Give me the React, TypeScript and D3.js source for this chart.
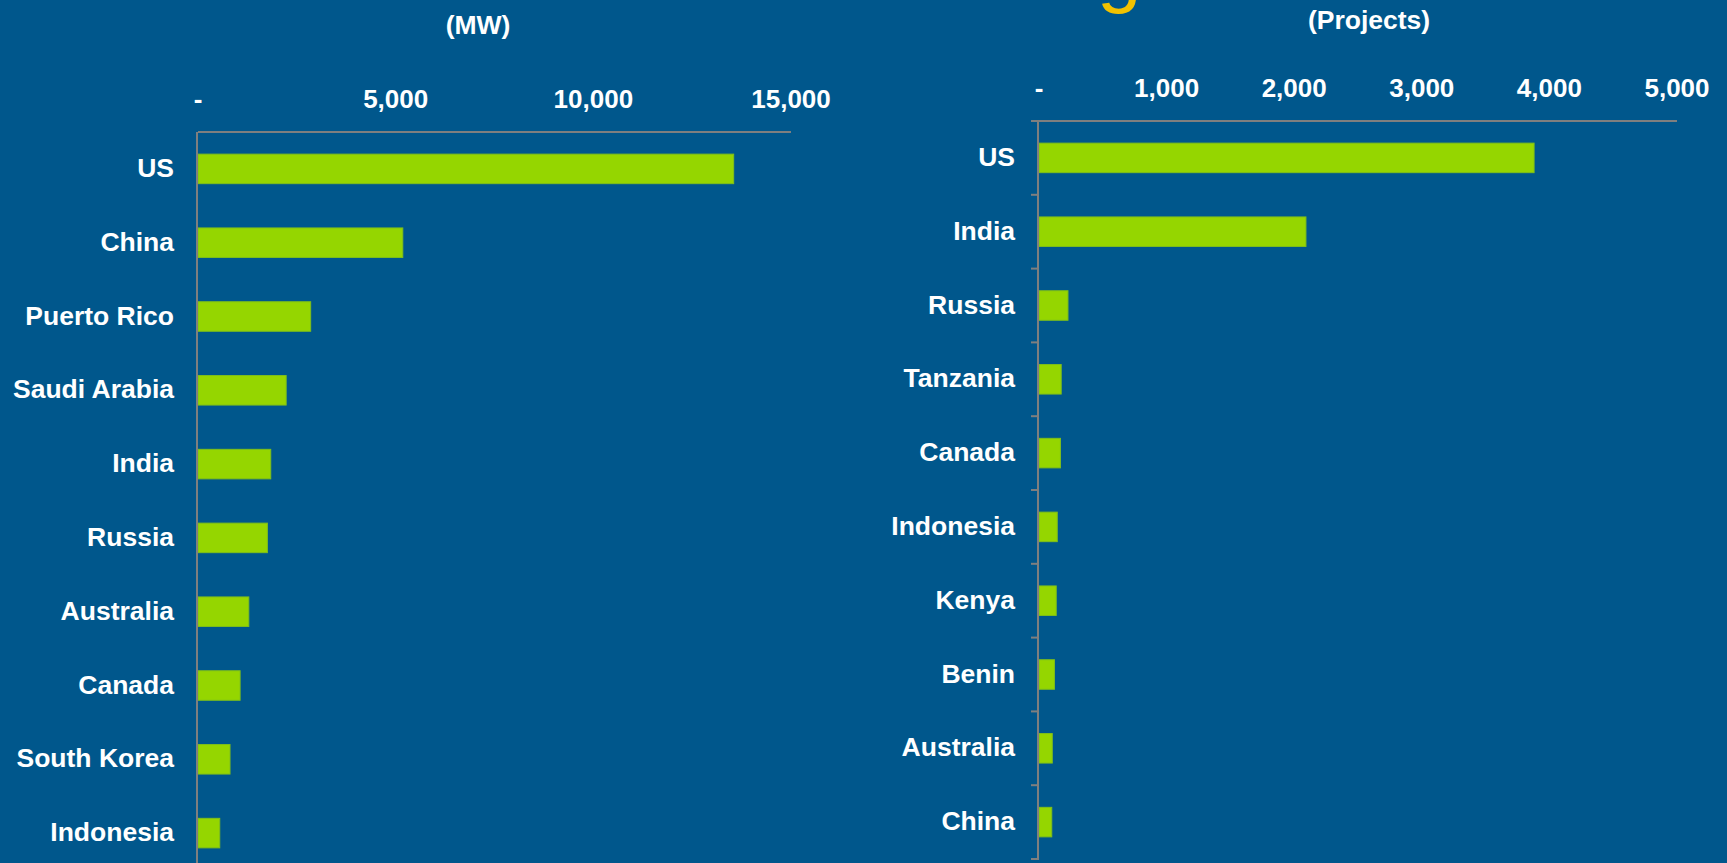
import React from "react";
import * as d3 from "d3";

// left panel: capacity (MW)
const mwCountries = ["US", "China", "Puerto Rico", "Saudi Arabia", "India", "Russia", "Australia", "Canada", "South Korea", "Indonesia"];
const mwValues = [13550, 5180, 2850, 2230, 1840, 1755, 1285, 1065, 810, 550];
const mwTicks = [0, 5000, 10000, 15000];

// right panel: number of projects
const projCountries = ["US", "India", "Russia", "Tanzania", "Canada", "Indonesia", "Kenya", "Benin", "Australia", "China"];
const projValues = [3880, 2092, 227, 174, 168, 143, 135, 121, 104, 100];
const projTicks = [0, 1000, 2000, 3000, 4000, 5000];

const W = 1727;
const H = 863;
const BG = "#00578C";
const BAR = "#95D600";
const AXIS = "#7F7F7F";
const FONT = "'Liberation Sans', Arial, sans-serif";

const fmt = (v: number) => (v === 0 ? "-" : d3.format(",")(v));

type PanelProps = {
  countries: string[];
  values: number[];
  ticks: number[];
  x0: number;
  x1: number;
  max: number;
  top: number;
  title: string;
  titleX: number;
  titleY: number;
  catTicks: boolean;
};

const Panel = (p: PanelProps) => {
  const x = d3.scaleLinear().domain([0, p.max]).range([p.x0, p.x1]);
  const y = d3
    .scaleBand<string>()
    .domain(p.countries)
    .range([p.top, p.top + 738])
    .paddingInner(0.6)
    .paddingOuter(0.3);
  const step = y.step();

  return (
    <g>
      <text x={p.titleX} y={p.titleY} textAnchor="middle" dominantBaseline="central"
        fill="#fff" fontFamily={FONT} fontWeight="bold" fontSize={26.5}>
        {p.title}
      </text>

      {p.ticks.map((t) => (
        <text key={t} x={x(t)} y={p.top - 33} textAnchor="middle" dominantBaseline="central"
          fill="#fff" fontFamily={FONT} fontWeight="bold" fontSize={26}>
          {fmt(t)}
        </text>
      ))}

      {p.countries.map((c, i) => (
        <g key={c}>
          <rect x={x(0)} y={y(c)} width={x(p.values[i]) - x(0)} height={y.bandwidth()}
            fill={BAR} stroke="#7FBF1A" strokeWidth={1} />
          <text x={p.x0 - 24} y={(y(c) ?? 0) + y.bandwidth() / 2 - 1} textAnchor="end"
            dominantBaseline="central" fill="#fff" fontFamily={FONT} fontWeight="bold" fontSize={26.5}>
            {c}
          </text>
        </g>
      ))}

      {p.catTicks &&
        d3.range(p.countries.length + 1).map((k) => (
          <line key={k} x1={p.x0 - 8} x2={p.x0} y1={p.top + k * step} y2={p.top + k * step}
            stroke={AXIS} strokeWidth={2} />
        ))}

      <line x1={p.catTicks ? p.x0 - 8 : p.x0} x2={p.x1} y1={p.top} y2={p.top} stroke={AXIS} strokeWidth={2} />
      <line x1={p.x0 - 1} x2={p.x0 - 1} y1={p.top} y2={p.top + 738} stroke={AXIS} strokeWidth={2} />
    </g>
  );
};

export default function App() {
  return (
    <svg width={W} height={H} style={{ position: "absolute", left: 0, top: 0, display: "block" }}>
      <rect width={W} height={H} fill={BG} />
      {/* descender of the cut-off slide title */}
      <text x={1097} y={-3} fill="#F2C200" fontFamily={FONT} fontSize={80}>g</text>
      <Panel countries={mwCountries} values={mwValues} ticks={mwTicks} x0={198} x1={791}
        max={15000} top={132} title="(MW)" titleX={478} titleY={25} catTicks={false} />
      <Panel countries={projCountries} values={projValues} ticks={projTicks} x0={1039} x1={1677}
        max={5000} top={121} title="(Projects)" titleX={1369} titleY={20} catTicks={true} />
    </svg>
  );
}
